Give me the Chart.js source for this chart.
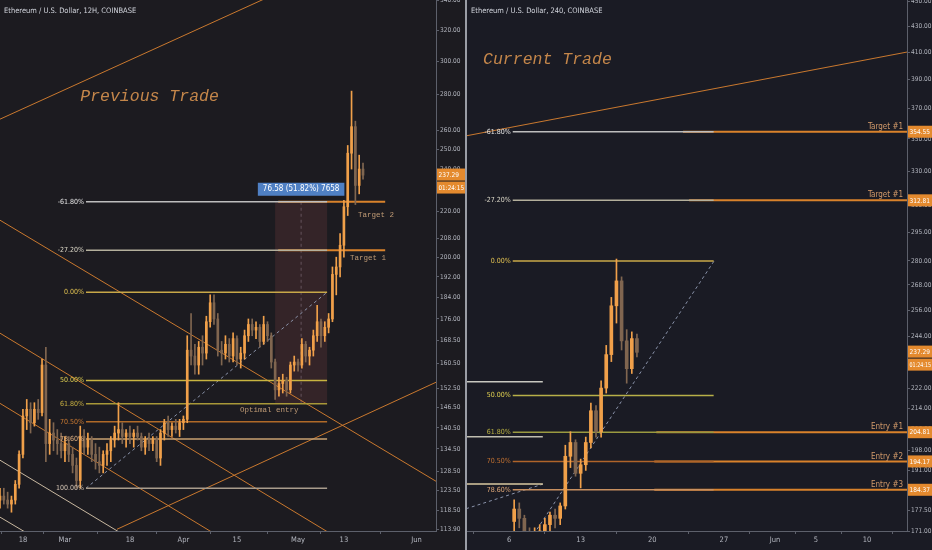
<!DOCTYPE html>
<html lang="en">
<head>
<meta charset="UTF-8">
<title>ETH previous / current trade</title>
<script src="https://cdn.jsdelivr.net/npm/chart.js"></script>
<style>
  html, body { margin: 0; padding: 0; background: #9a9da5; }
  #wrap { position: relative; width: 932px; height: 550px; overflow: hidden; }
  canvas { position: absolute; top: 0; }
  #left { left: 0; background: #1c1b20; }
  #right { left: 467px; background: #1a1b24; }
</style>
</head>
<body>
<div id="wrap">
  <canvas id="left" width="465" height="550"></canvas>
  <canvas id="right" width="465" height="550"></canvas>
</div>
<script>
// x values are days counted from 2019-02-01

// ---- left panel: 12H chart (drawn as daily candles) ----
const lStart = 11, lStep = 1
const lOpen  = [121,122,121,120,121,125,133,144,146,142,146,145,160,136,139,137,136,134,136,133,130,126,138,135,137,133,131,130,133,134,137,139,140,138,139,138,139,138,135,137,136,137,132,139,142,140,141,140,142,143,165,163,160,166,164,175,182,176,165,164,167,163,169,162,164,170,174,172,173,168,174,170,161,152,154,155,152,160,161,160,167,163,165,170,175,170,173,176,193,196,205,222,248,262,232,240]
const lHigh  = [124,124,123,122,126,134,146,149,148,148,149,162,166,143,142,140,139,138,138,135,132,141,140,139,138,136,135,134,136,138,141,148,142,140,141,140,141,139,138,139,138,138,140,143,144,142,143,143,144,170,178,167,168,170,177,185,185,178,168,170,169,171,170,166,172,176,176,175,174,177,175,171,162,156,157,156,161,163,162,169,168,166,172,181,176,175,178,196,200,210,225,252,282,265,247,243]
const lLow   = [119,120,119,118,120,124,132,140,139,141,143,144,131,133,134,133,132,131,131,128,124,124,133,133,131,129,128,128,130,131,135,137,136,135,136,135,137,134,133,134,134,131,130,137,138,138,139,138,140,142,160,157,157,160,162,173,174,163,160,162,161,161,160,159,162,168,170,169,166,167,168,159,149,150,151,150,151,158,158,159,161,160,163,168,166,168,171,175,185,192,200,218,240,223,228,235]
const lClose = [122,121,120,121,125,133,144,146,142,146,145,160,136,139,137,136,134,136,133,130,126,138,135,137,133,131,130,133,134,137,139,140,138,139,138,139,138,135,137,136,137,132,139,142,140,141,140,142,143,165,163,160,166,164,175,182,176,165,164,167,163,169,162,164,170,174,172,173,168,174,170,161,152,154,155,152,160,161,160,167,163,165,170,175,170,173,176,193,196,205,222,248,262,232,240,237]
const lYTicks = [340, 320, 300, 280, 260, 250, 240, 230, 220, 208, 200, 192, 184, 176, 168.5, 160.5, 152.5, 146.5, 140.5, 134.5, 128.5, 123.5, 118.5, 113.9]
const lXTicks = [17, 28, 45, 59, 73, 89, 101, 120]
const lXLabels = ['18', 'Mar', '18', 'Apr', '15', 'May', '13', 'Jun']
const lFibNames  = ['-61.80%', '-27.20%', '0.00%', '50.00%', '61.80%', '70.50%', '78.60%', '100.00%']
const lFibLevels = [224.3, 202.9, 186, 155, 147.7, 142.3, 137.3, 124]
const lFibFrom = 33.5, lFibTo = 96.6
const lTargetLevels = [224.3, 202.9]
const lTargetFrom = 83.8, lTargetTo = 111.8
// sloped lines: [day1, price1, day2, price2]
const lChannel = [
  [11, 266.1, 89.5, 352.9],
  [11, 215.9, 125.1, 125.8],
  [11, 170.9, 96.9, 113.2],
  [11, 147.8, 66.5, 113.2],
  [11, 131.4, 41.9, 113.4],
  [11, 116.8, 17.3, 113.4],
  [41.6, 113.9, 125.1, 154.4]
]
const lTrend = [33.5, 124, 96.6, 186]
const lMeasure = { from: 83.0, to: 96.6, low: 147.7, high: 224.3, mid: 89.8, label: '76.58 (51.82%) 7658' }
const lNotes = [
  ['Previous Trade', 32, 278.6],
  ['Target 2', 104.7, 218.2],
  ['Target 1', 102.6, 199.6],
  ['Optimal entry', 73.8, 145.7]
]
const lTags = [237.29]

// ---- right panel: 240 chart (drawn as 12H candles) ----
const rStart = 94.5, rStep = 0.5
const rOpen  = [174,178,175,170,168,170,171,173,176,175,179,196,201,190,193,201,213,205,222,236,258,270,242,230,243]
const rHigh  = [181,180,176,172,172,173,175,177,178,180,200,205,202,195,203,216,215,225,240,262,281,272,247,246,245]
const rLow   = [171,172,169,166,165,167,169,170,172,173,178,192,189,185,191,199,203,203,220,233,250,238,224,228,235]
const rClose = [178,175,170,168,170,171,173,176,175,179,196,201,190,193,201,213,205,222,236,258,270,242,230,243,237]
const rYTicks = [450, 430, 410, 390, 370, 350, 330, 310, 295, 280, 268, 256, 244, 232, 222, 214, 206, 198, 191, 184, 177.5, 171]
const rXTicks = [94, 101, 108, 115, 120, 124, 129]
const rXLabels = ['6', '13', '20', '27', 'Jun', '5', '10']
const rFibNames  = ['-61.80%', '-27.20%', '0.00%', '50.00%', '61.80%', '70.50%', '78.60%']
const rFibLevels = [354.55, 312.81, 280, 219, 204.81, 194.17, 184.37]
const rFibFrom = 94.36, rFibTo = 114.0
const rTargetNames  = ['Target #1', 'Target #1', 'Entry #1', 'Entry #2', 'Entry #3']
const rTargetLevels = [354.55, 312.81, 204.81, 194.17, 184.37]
const rTargetFrom   = [111.0, 111.6, 108.4, 108.2, 108.2]
const rShortLevels = [224.6, 203.1, 186.3]
const rChannel = [[89.8, 351.9, 132.9, 410.1]]
const rTrends = [[93.83, 158, 114.04, 280], [89.8, 178.1, 97.32, 186.3]]
const rNotes = [['Current Trade', 91.46, 404.2]]
const rTags = [354.55, 312.81, 237.29, 204.81, 194.17, 184.37]

const countdown = '01:24:15'
const lastPrice = 237.29

// ---- styling ----
const SANS = "'Liberation Sans Narrow', 'DejaVu Sans Condensed', 'Liberation Sans', sans-serif"
const MONO = "'Liberation Mono', 'DejaVu Sans Mono', monospace"
const UP = '#f0a04a', DOWN = '#806650'
const AXIS = '#5d606b', TEXT = '#b2b5be'
const lFibLine = ['#bdbdbd', '#b4b09c', '#c8a848', '#c8b440', '#a89838', '#b06a28', '#c8a070', '#a89c8c']
const lFibText = ['#e4e4e4', '#dcd8c8', '#e0c050', '#e0d050', '#c8b040', '#c87830', '#e0b080', '#d4c4b4']
const rFibLine = ['#bdbdbd', '#b4b09c', '#c8a848', '#b8b048', '#9a9a40', '#b0642a', '#c89060']
const rFibText = ['#e4e4e4', '#dcd8c8', '#e0c050', '#e0d050', '#b8b040', '#c07030', '#e0a878']
const rShortColors = ['#c8c8c0', '#c0beb0', '#d8c8a0']
const ORANGE = '#d9822b'

function candles(start, step, o, h, l, c, bodyW) {
  const xs = o.map((_, i) => start + i * step)
  const col = o.map((v, i) => c[i] >= v ? UP : DOWN)
  return [
    { type: 'bar', data: xs.map((x, i) => ({ x, y: [l[i], h[i]] })), backgroundColor: col, barThickness: 1, grouped: false, order: 0 },
    { type: 'bar', data: xs.map((x, i) => ({ x, y: [o[i], c[i]] })), backgroundColor: col, barThickness: bodyW, grouped: false, order: 0, minBarLength: 1 }
  ]
}

function seg(x1, y1, x2, y2, color, width, dash, order) {
  return {
    type: 'line', data: [{ x: x1, y: y1 }, { x: x2, y: y2 }],
    borderColor: color, borderWidth: width, borderDash: dash || [],
    pointRadius: 0, fill: false, order: order
  }
}

function axes(xMin, xMax, xTicks, xLabels, yMin, yMax, yTicks, yWidth) {
  return {
    x: {
      type: 'linear', min: xMin, max: xMax, offset: false,
      grid: { drawOnChartArea: false, color: AXIS, tickLength: 3 },
      border: { color: AXIS },
      ticks: { autoSkip: false, maxRotation: 0, color: TEXT, font: { family: SANS, size: 7.5 }, padding: 2,
        callback: (v, i) => xLabels[i] },
      afterBuildTicks: s => { s.ticks = xTicks.map(v => ({ value: v })) },
      afterFit: s => { s.height = 19; s.paddingLeft = 0; s.paddingRight = 0 }
    },
    y: {
      type: 'logarithmic', position: 'right', min: yMin, max: yMax,
      grid: { drawOnChartArea: false, color: AXIS, tickLength: 3 },
      border: { color: AXIS },
      ticks: { autoSkip: false, color: TEXT, font: { family: SANS, size: 6.5 }, padding: 1,
        callback: v => Number(v).toFixed(2) },
      afterBuildTicks: s => { s.ticks = yTicks.map(v => ({ value: v })) },
      afterFit: s => { s.width = yWidth; s.paddingTop = 0; s.paddingBottom = 0 }
    }
  }
}

function overlay(cfg) {
  return {
    id: 'overlay',
    beforeDatasetsDraw(chart) {
      const m = cfg.measure
      if (!m) return
      const { ctx, scales: { x, y } } = chart
      const x1 = x.getPixelForValue(m.from), x2 = x.getPixelForValue(m.to)
      const y1 = y.getPixelForValue(m.high), y2 = y.getPixelForValue(m.low)
      ctx.save()
      ctx.fillStyle = 'rgba(150, 70, 70, 0.2)'
      ctx.fillRect(x1, y1, x2 - x1, y2 - y1)
      const xm = x.getPixelForValue(m.mid)
      ctx.strokeStyle = 'rgba(190, 170, 190, 0.35)'
      ctx.setLineDash([3, 3])
      ctx.beginPath(); ctx.moveTo(xm, y1); ctx.lineTo(xm, y2); ctx.stroke()
      ctx.restore()
    },
    afterDatasetsDraw(chart) {
      const { ctx, chartArea, scales: { x, y } } = chart
      ctx.save()
      ctx.beginPath()
      ctx.rect(chartArea.left, chartArea.top, chartArea.right - chartArea.left, chartArea.bottom - chartArea.top)
      ctx.clip()
      // fib level names
      ctx.font = '7px ' + SANS
      ctx.textAlign = 'right'; ctx.textBaseline = 'middle'
      cfg.fibNames.forEach((n, i) => {
        ctx.fillStyle = cfg.fibText[i]
        ctx.fillText(n, x.getPixelForValue(cfg.fibFrom) - 2, y.getPixelForValue(cfg.fibLevels[i]))
      })
      // target / entry names at the right edge
      if (cfg.targetNames) {
        ctx.font = '8px ' + SANS
        ctx.fillStyle = '#d29a6a'
        ctx.textBaseline = 'bottom'
        cfg.targetNames.forEach((n, i) => {
          ctx.fillText(n, chartArea.right - 4, y.getPixelForValue(cfg.targetLevels[i]) - 1)
        })
      }
      // notes
      ctx.textAlign = 'left'; ctx.textBaseline = 'middle'
      cfg.notes.forEach((n, i) => {
        if (i === 0) { ctx.font = 'italic 16.5px ' + MONO; ctx.fillStyle = '#c4864a' }
        else { ctx.font = '7.5px ' + MONO; ctx.fillStyle = '#bf9a74' }
        ctx.fillText(n[0], x.getPixelForValue(n[1]), y.getPixelForValue(n[2]))
      })
      // measurement label
      const m = cfg.measure
      if (m) {
        ctx.font = '8px ' + SANS
        const w = ctx.measureText(m.label).width + 10
        const cx = (x.getPixelForValue(m.from) + x.getPixelForValue(m.to)) / 2
        const top = y.getPixelForValue(m.high)
        ctx.fillStyle = '#4f80c4'
        ctx.fillRect(cx - w / 2, top - 19, w, 13)
        ctx.fillStyle = '#ffffff'; ctx.textAlign = 'center'
        ctx.fillText(m.label, cx, top - 12.5)
      }
      ctx.restore()
    },
    afterDraw(chart) {
      const { ctx, chartArea, scales: { y } } = chart
      ctx.save()
      ctx.font = '7.5px ' + SANS
      ctx.textBaseline = 'middle'; ctx.textAlign = 'left'
      ctx.fillStyle = '#d1d4dc'
      ctx.fillText(cfg.title, chartArea.left + 4, 11)
      ctx.font = '6.5px ' + SANS
      const x0 = chartArea.right + 1, w = chart.width - x0
      const tag = (text, py) => {
        ctx.fillStyle = '#e48a2e'
        ctx.fillRect(x0, py - 6, w, 12)
        ctx.fillStyle = '#ffffff'
        ctx.fillText(text, x0 + 1.5, py + 0.5, w - 2.5)
      }
      cfg.tags.forEach(v => {
        const py = y.getPixelForValue(v)
        tag(v.toFixed(2), py)
        if (v === lastPrice) tag(countdown, py + 13)
      })
      ctx.restore()
    }
  }
}

function build(id, cfg) {
  const sets = candles(cfg.start, cfg.step, cfg.o, cfg.h, cfg.l, cfg.c, cfg.bodyW)
  cfg.fibLevels.forEach((v, i) => sets.push(seg(cfg.fibFrom, v, cfg.fibTo, v, cfg.fibLine[i], 1.5, null, 1)))
  cfg.targets.forEach(t => sets.push(seg(t[0], t[2], t[1], t[2], ORANGE, 2, null, 1)))
  cfg.extra.forEach(e => sets.push(e))
  new Chart(document.getElementById(id), {
    type: 'bar',
    data: { datasets: sets },
    options: {
      responsive: false,
      animation: false,
      layout: { padding: 0 },
      plugins: { legend: { display: false }, tooltip: { enabled: false } },
      scales: cfg.scales
    },
    plugins: [overlay(cfg)]
  })
}

window.onload = () => {
  build('left', {
    title: 'Ethereum / U.S. Dollar, 12H, COINBASE',
    start: lStart, step: lStep, o: lOpen, h: lHigh, l: lLow, c: lClose, bodyW: 2,
    fibNames: lFibNames, fibLevels: lFibLevels, fibFrom: lFibFrom, fibTo: lFibTo,
    fibLine: lFibLine, fibText: lFibText,
    targets: lTargetLevels.map(v => [lTargetFrom, lTargetTo, v]),
    extra: [
      ...lChannel.map((s, i) => seg(s[0], s[1], s[2], s[3], (i === 4 || i === 5) ? '#c8b8a0' : '#c9782e', 1, null, 2)),
      seg(lTrend[0], lTrend[1], lTrend[2], lTrend[3], '#8a93aa', 1, [3, 3], 2)
    ],
    measure: lMeasure,
    notes: lNotes,
    tags: lTags,
    scales: axes(11, 125.1, lXTicks, lXLabels, 113.5, 340.5, lYTicks, 29)
  })

  build('right', {
    title: 'Ethereum / U.S. Dollar, 240, COINBASE',
    start: rStart, step: rStep, o: rOpen, h: rHigh, l: rLow, c: rClose, bodyW: 3,
    fibNames: rFibNames, fibLevels: rFibLevels, fibFrom: rFibFrom, fibTo: rFibTo,
    fibLine: rFibLine, fibText: rFibText,
    targetNames: rTargetNames, targetLevels: rTargetLevels,
    targets: rTargetLevels.map((v, i) => [rTargetFrom[i], 140, v]),
    extra: [
      ...rShortLevels.map((v, i) => seg(88, v, 97.3, v, rShortColors[i], 1.5, null, 1)),
      ...rChannel.map(s => seg(s[0], s[1], s[2], s[3], '#c9782e', 1, null, 2)),
      ...rTrends.map(s => seg(s[0], s[1], s[2], s[3], '#8a93aa', 1, [3, 3], 2))
    ],
    notes: rNotes,
    tags: rTags,
    scales: axes(89.89, 132.9, rXTicks, rXLabels, 171, 451, rYTicks, 25)
  })
}
</script>
</body>
</html>
